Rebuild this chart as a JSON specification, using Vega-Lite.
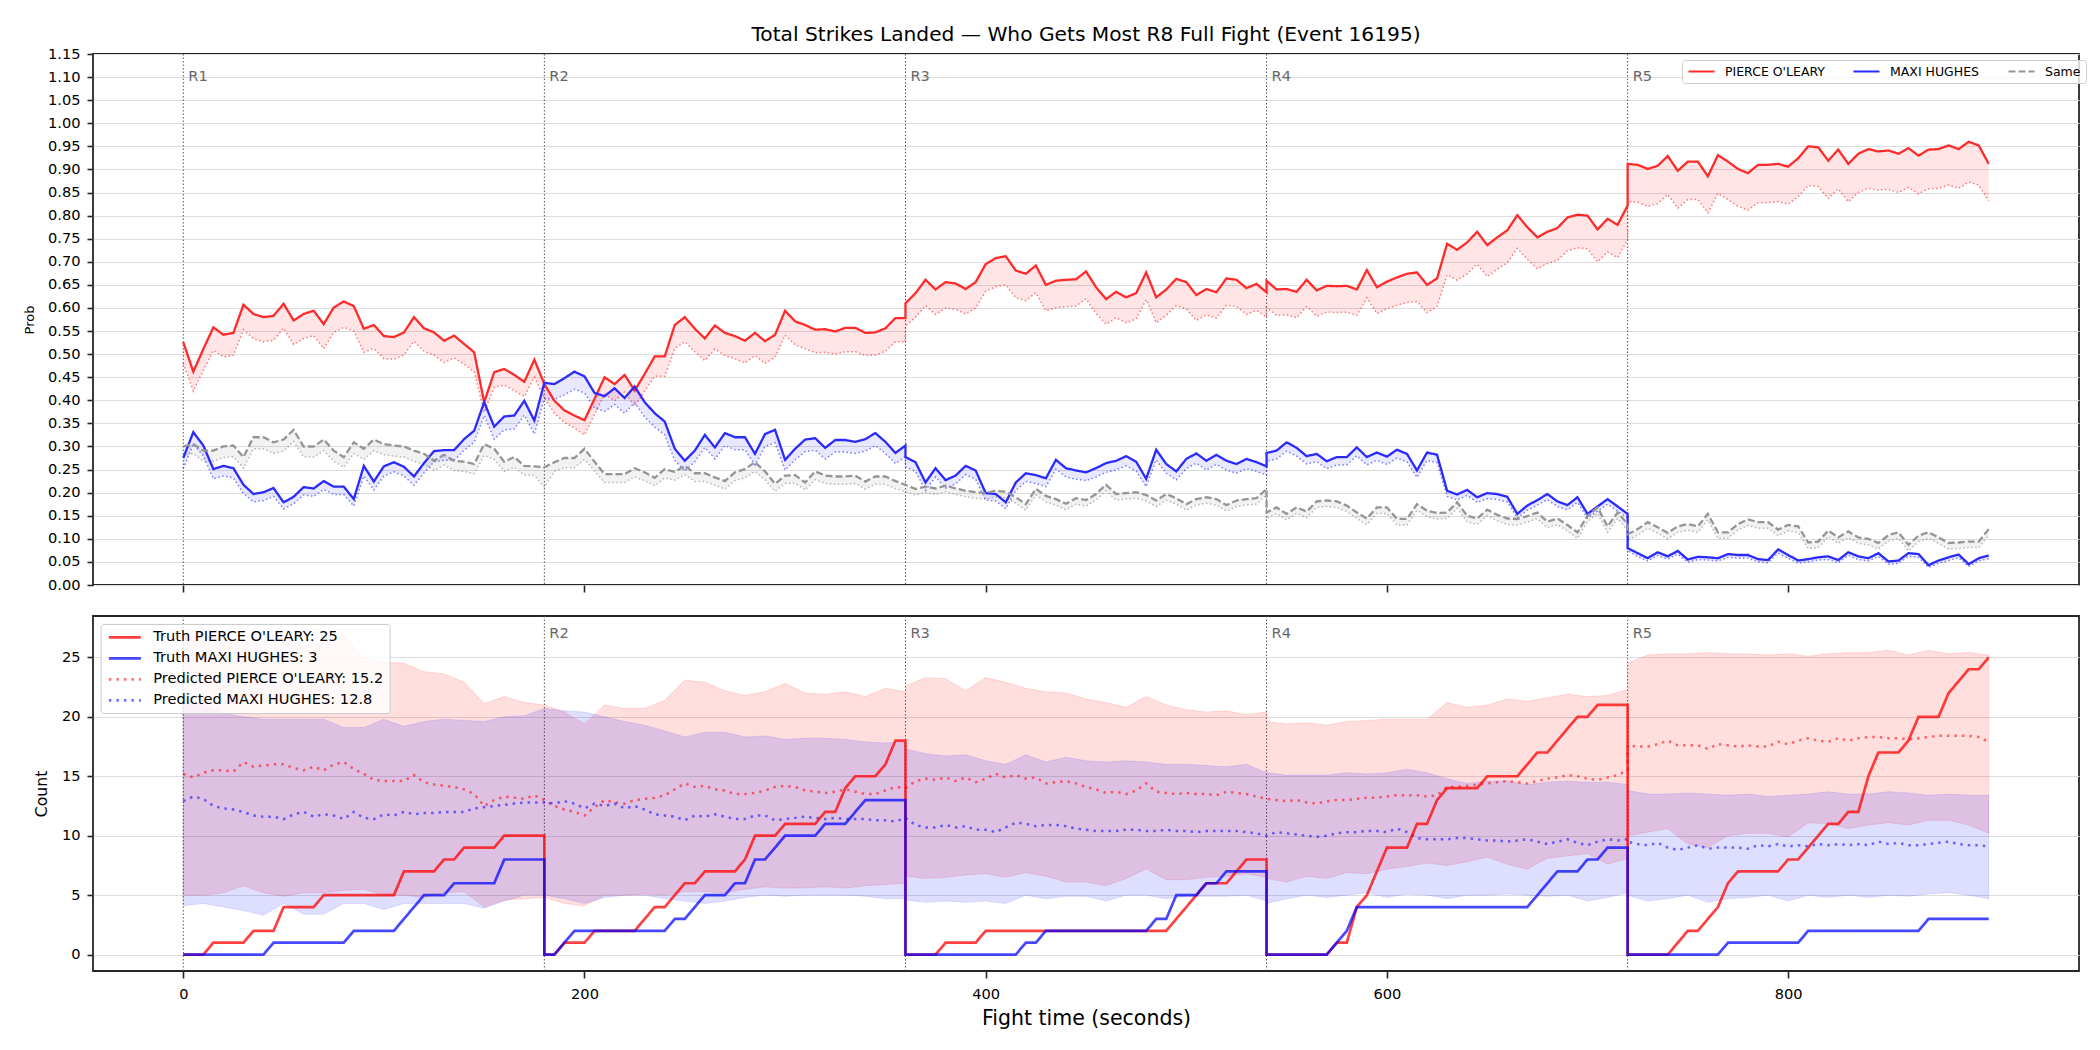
{
"$schema": "https://vega.github.io/schema/vega-lite/v6.json",
"background": "white",
"padding": {"left": 22, "top": 23, "right": 0, "bottom": 0},
"config": {
 "font": "DejaVu Sans",
 "view": {"stroke": "#262626", "strokeWidth": 1.8},
 "axis": {"domain": false, "tickColor": "#262626", "tickWidth": 1.6, "tickSize": 7, "labelColor": "#000000", "labelFont": "DejaVu Sans", "labelFontSize": 14.6, "titleFont": "DejaVu Sans", "titleFontWeight": "normal", "titleColor": "#000000", "gridColor": "#dddddd", "gridWidth": 1, "labelFlush": false, "labelOverlap": false},
 "legend": {"labelFont": "DejaVu Sans", "labelColor": "#000000", "fillColor": "rgba(255,255,255,0.8)", "strokeColor": "#cccccc", "cornerRadius": 3},
 "title": {"font": "DejaVu Sans", "fontWeight": "normal", "color": "#000000"}
},
"datasets": {
"rounds": [{"t":0,"r":"R1"},{"t":180,"r":"R2"},{"t":360,"r":"R3"},{"t":540,"r":"R4"},{"t":720,"r":"R5"}],
"prob": [
{"t":0,"r":0.526,"rl":0.480,"b":0.275,"bl":0.252,"s":0.300,"sl":0.280},
{"t":5,"r":0.462,"rl":0.420,"b":0.331,"bl":0.305,"s":0.305,"sl":0.285},
{"t":10,"r":0.511,"rl":0.465,"b":0.302,"bl":0.280,"s":0.291,"sl":0.268},
{"t":15,"r":0.558,"rl":0.508,"b":0.251,"bl":0.230,"s":0.291,"sl":0.268},
{"t":20,"r":0.542,"rl":0.494,"b":0.258,"bl":0.236,"s":0.300,"sl":0.276},
{"t":25,"r":0.546,"rl":0.497,"b":0.253,"bl":0.232,"s":0.302,"sl":0.278},
{"t":30,"r":0.607,"rl":0.553,"b":0.217,"bl":0.198,"s":0.277,"sl":0.253},
{"t":35,"r":0.587,"rl":0.533,"b":0.197,"bl":0.180,"s":0.320,"sl":0.295},
{"t":40,"r":0.580,"rl":0.527,"b":0.201,"bl":0.183,"s":0.320,"sl":0.295},
{"t":45,"r":0.583,"rl":0.530,"b":0.210,"bl":0.192,"s":0.309,"sl":0.285},
{"t":50,"r":0.609,"rl":0.556,"b":0.179,"bl":0.165,"s":0.315,"sl":0.290},
{"t":55,"r":0.573,"rl":0.521,"b":0.191,"bl":0.176,"s":0.336,"sl":0.311},
{"t":60,"r":0.587,"rl":0.534,"b":0.212,"bl":0.195,"s":0.300,"sl":0.277},
{"t":65,"r":0.594,"rl":0.540,"b":0.209,"bl":0.192,"s":0.300,"sl":0.277},
{"t":70,"r":0.565,"rl":0.512,"b":0.225,"bl":0.207,"s":0.315,"sl":0.291},
{"t":75,"r":0.601,"rl":0.547,"b":0.213,"bl":0.196,"s":0.291,"sl":0.268},
{"t":80,"r":0.614,"rl":0.558,"b":0.213,"bl":0.196,"s":0.277,"sl":0.255},
{"t":85,"r":0.604,"rl":0.550,"b":0.186,"bl":0.171,"s":0.309,"sl":0.285},
{"t":90,"r":0.555,"rl":0.504,"b":0.258,"bl":0.236,"s":0.295,"sl":0.272},
{"t":95,"r":0.563,"rl":0.512,"b":0.224,"bl":0.206,"s":0.315,"sl":0.291},
{"t":100,"r":0.539,"rl":0.490,"b":0.257,"bl":0.236,"s":0.305,"sl":0.282},
{"t":105,"r":0.537,"rl":0.489,"b":0.266,"bl":0.245,"s":0.302,"sl":0.279},
{"t":110,"r":0.547,"rl":0.498,"b":0.256,"bl":0.236,"s":0.300,"sl":0.277},
{"t":115,"r":0.580,"rl":0.528,"b":0.235,"bl":0.216,"s":0.291,"sl":0.268},
{"t":120,"r":0.556,"rl":0.506,"b":0.264,"bl":0.243,"s":0.284,"sl":0.262},
{"t":125,"r":0.547,"rl":0.498,"b":0.290,"bl":0.267,"s":0.269,"sl":0.248},
{"t":130,"r":0.529,"rl":0.482,"b":0.292,"bl":0.270,"s":0.282,"sl":0.260},
{"t":135,"r":0.540,"rl":0.492,"b":0.292,"bl":0.270,"s":0.269,"sl":0.248},
{"t":140,"r":0.522,"rl":0.478,"b":0.316,"bl":0.292,"s":0.267,"sl":0.246},
{"t":145,"r":0.504,"rl":0.462,"b":0.334,"bl":0.309,"s":0.262,"sl":0.241},
{"t":150,"r":0.396,"rl":0.374,"b":0.396,"bl":0.367,"s":0.305,"sl":0.281},
{"t":155,"r":0.461,"rl":0.428,"b":0.343,"bl":0.316,"s":0.295,"sl":0.272},
{"t":160,"r":0.468,"rl":0.433,"b":0.365,"bl":0.336,"s":0.267,"sl":0.246},
{"t":165,"r":0.455,"rl":0.421,"b":0.367,"bl":0.338,"s":0.277,"sl":0.255},
{"t":170,"r":0.440,"rl":0.408,"b":0.399,"bl":0.368,"s":0.258,"sl":0.238},
{"t":175,"r":0.488,"rl":0.450,"b":0.356,"bl":0.327,"s":0.257,"sl":0.237},
{"t":180,"r":0.435,"rl":0.405,"b":0.438,"bl":0.404,"s":0.255,"sl":0.212},
{"t":185,"r":0.399,"rl":0.372,"b":0.435,"bl":0.402,"s":0.266,"sl":0.246},
{"t":190,"r":0.378,"rl":0.352,"b":0.448,"bl":0.412,"s":0.275,"sl":0.254},
{"t":195,"r":0.367,"rl":0.340,"b":0.462,"bl":0.424,"s":0.275,"sl":0.254},
{"t":200,"r":0.357,"rl":0.325,"b":0.452,"bl":0.416,"s":0.295,"sl":0.272},
{"t":205,"r":0.403,"rl":0.370,"b":0.416,"bl":0.383,"s":0.267,"sl":0.247},
{"t":210,"r":0.450,"rl":0.413,"b":0.409,"bl":0.376,"s":0.240,"sl":0.222},
{"t":215,"r":0.435,"rl":0.399,"b":0.426,"bl":0.391,"s":0.240,"sl":0.222},
{"t":220,"r":0.455,"rl":0.418,"b":0.405,"bl":0.372,"s":0.240,"sl":0.222},
{"t":225,"r":0.421,"rl":0.387,"b":0.430,"bl":0.395,"s":0.253,"sl":0.234},
{"t":230,"r":0.457,"rl":0.420,"b":0.396,"bl":0.364,"s":0.244,"sl":0.226},
{"t":235,"r":0.495,"rl":0.452,"b":0.372,"bl":0.342,"s":0.232,"sl":0.215},
{"t":240,"r":0.495,"rl":0.452,"b":0.354,"bl":0.325,"s":0.251,"sl":0.232},
{"t":245,"r":0.563,"rl":0.512,"b":0.295,"bl":0.270,"s":0.245,"sl":0.227},
{"t":250,"r":0.580,"rl":0.527,"b":0.269,"bl":0.247,"s":0.258,"sl":0.239},
{"t":255,"r":0.555,"rl":0.505,"b":0.291,"bl":0.267,"s":0.242,"sl":0.224},
{"t":260,"r":0.534,"rl":0.486,"b":0.325,"bl":0.298,"s":0.242,"sl":0.224},
{"t":265,"r":0.562,"rl":0.511,"b":0.298,"bl":0.273,"s":0.233,"sl":0.216},
{"t":270,"r":0.546,"rl":0.497,"b":0.329,"bl":0.302,"s":0.225,"sl":0.208},
{"t":275,"r":0.539,"rl":0.490,"b":0.320,"bl":0.293,"s":0.244,"sl":0.226},
{"t":280,"r":0.529,"rl":0.481,"b":0.320,"bl":0.293,"s":0.251,"sl":0.232},
{"t":285,"r":0.546,"rl":0.497,"b":0.284,"bl":0.260,"s":0.266,"sl":0.246},
{"t":290,"r":0.528,"rl":0.480,"b":0.327,"bl":0.300,"s":0.246,"sl":0.228},
{"t":295,"r":0.542,"rl":0.493,"b":0.336,"bl":0.308,"s":0.219,"sl":0.203},
{"t":300,"r":0.594,"rl":0.541,"b":0.271,"bl":0.249,"s":0.237,"sl":0.220},
{"t":305,"r":0.571,"rl":0.520,"b":0.295,"bl":0.271,"s":0.238,"sl":0.221},
{"t":310,"r":0.563,"rl":0.512,"b":0.315,"bl":0.289,"s":0.222,"sl":0.206},
{"t":315,"r":0.553,"rl":0.503,"b":0.318,"bl":0.292,"s":0.246,"sl":0.228},
{"t":320,"r":0.554,"rl":0.504,"b":0.297,"bl":0.273,"s":0.237,"sl":0.220},
{"t":325,"r":0.549,"rl":0.500,"b":0.314,"bl":0.288,"s":0.235,"sl":0.218},
{"t":330,"r":0.557,"rl":0.505,"b":0.314,"bl":0.288,"s":0.235,"sl":0.218},
{"t":335,"r":0.557,"rl":0.505,"b":0.310,"bl":0.285,"s":0.237,"sl":0.220},
{"t":340,"r":0.546,"rl":0.497,"b":0.316,"bl":0.290,"s":0.224,"sl":0.208},
{"t":345,"r":0.547,"rl":0.498,"b":0.329,"bl":0.302,"s":0.235,"sl":0.218},
{"t":350,"r":0.556,"rl":0.506,"b":0.310,"bl":0.285,"s":0.235,"sl":0.218},
{"t":355,"r":0.578,"rl":0.527,"b":0.286,"bl":0.263,"s":0.225,"sl":0.209},
{"t":360,"r":0.578,"rl":0.527,"b":0.302,"bl":0.278,"s":0.217,"sl":0.202},
{"t":360,"r":0.610,"rl":0.560,"b":0.277,"bl":0.256,"s":0.217,"sl":0.202},
{"t":365,"r":0.632,"rl":0.580,"b":0.266,"bl":0.246,"s":0.208,"sl":0.195},
{"t":370,"r":0.661,"rl":0.605,"b":0.222,"bl":0.205,"s":0.213,"sl":0.200},
{"t":375,"r":0.640,"rl":0.586,"b":0.253,"bl":0.234,"s":0.209,"sl":0.196},
{"t":380,"r":0.656,"rl":0.600,"b":0.227,"bl":0.210,"s":0.215,"sl":0.202},
{"t":385,"r":0.653,"rl":0.597,"b":0.237,"bl":0.219,"s":0.209,"sl":0.196},
{"t":390,"r":0.641,"rl":0.587,"b":0.258,"bl":0.239,"s":0.204,"sl":0.191},
{"t":395,"r":0.656,"rl":0.600,"b":0.248,"bl":0.229,"s":0.201,"sl":0.188},
{"t":400,"r":0.695,"rl":0.636,"b":0.199,"bl":0.184,"s":0.199,"sl":0.186},
{"t":405,"r":0.708,"rl":0.646,"b":0.197,"bl":0.182,"s":0.204,"sl":0.191},
{"t":410,"r":0.712,"rl":0.650,"b":0.179,"bl":0.165,"s":0.202,"sl":0.189},
{"t":415,"r":0.681,"rl":0.622,"b":0.222,"bl":0.205,"s":0.190,"sl":0.177},
{"t":420,"r":0.674,"rl":0.616,"b":0.242,"bl":0.224,"s":0.175,"sl":0.162},
{"t":425,"r":0.692,"rl":0.633,"b":0.238,"bl":0.220,"s":0.208,"sl":0.195},
{"t":430,"r":0.650,"rl":0.594,"b":0.231,"bl":0.213,"s":0.193,"sl":0.180},
{"t":435,"r":0.659,"rl":0.600,"b":0.271,"bl":0.251,"s":0.186,"sl":0.173},
{"t":440,"r":0.661,"rl":0.603,"b":0.253,"bl":0.234,"s":0.176,"sl":0.163},
{"t":445,"r":0.662,"rl":0.604,"b":0.248,"bl":0.229,"s":0.188,"sl":0.175},
{"t":450,"r":0.679,"rl":0.620,"b":0.244,"bl":0.226,"s":0.184,"sl":0.171},
{"t":455,"r":0.645,"rl":0.588,"b":0.253,"bl":0.234,"s":0.197,"sl":0.184},
{"t":460,"r":0.619,"rl":0.565,"b":0.264,"bl":0.244,"s":0.217,"sl":0.204},
{"t":465,"r":0.635,"rl":0.579,"b":0.269,"bl":0.249,"s":0.197,"sl":0.184},
{"t":470,"r":0.623,"rl":0.568,"b":0.279,"bl":0.258,"s":0.199,"sl":0.186},
{"t":475,"r":0.632,"rl":0.576,"b":0.267,"bl":0.247,"s":0.201,"sl":0.188},
{"t":480,"r":0.677,"rl":0.618,"b":0.230,"bl":0.213,"s":0.195,"sl":0.182},
{"t":485,"r":0.623,"rl":0.568,"b":0.293,"bl":0.271,"s":0.183,"sl":0.170},
{"t":490,"r":0.640,"rl":0.584,"b":0.262,"bl":0.242,"s":0.197,"sl":0.184},
{"t":495,"r":0.663,"rl":0.605,"b":0.246,"bl":0.228,"s":0.188,"sl":0.175},
{"t":500,"r":0.656,"rl":0.598,"b":0.273,"bl":0.252,"s":0.175,"sl":0.162},
{"t":505,"r":0.628,"rl":0.573,"b":0.285,"bl":0.264,"s":0.186,"sl":0.173},
{"t":510,"r":0.641,"rl":0.585,"b":0.269,"bl":0.249,"s":0.190,"sl":0.177},
{"t":515,"r":0.634,"rl":0.578,"b":0.282,"bl":0.261,"s":0.186,"sl":0.173},
{"t":520,"r":0.664,"rl":0.606,"b":0.269,"bl":0.249,"s":0.173,"sl":0.160},
{"t":525,"r":0.661,"rl":0.603,"b":0.262,"bl":0.242,"s":0.183,"sl":0.170},
{"t":530,"r":0.643,"rl":0.586,"b":0.273,"bl":0.252,"s":0.186,"sl":0.173},
{"t":535,"r":0.652,"rl":0.595,"b":0.266,"bl":0.246,"s":0.188,"sl":0.175},
{"t":540,"r":0.634,"rl":0.580,"b":0.257,"bl":0.238,"s":0.208,"sl":0.195},
{"t":540,"r":0.659,"rl":0.601,"b":0.286,"bl":0.268,"s":0.157,"sl":0.144},
{"t":545,"r":0.640,"rl":0.584,"b":0.291,"bl":0.273,"s":0.168,"sl":0.155},
{"t":550,"r":0.641,"rl":0.585,"b":0.309,"bl":0.290,"s":0.154,"sl":0.141},
{"t":555,"r":0.635,"rl":0.579,"b":0.297,"bl":0.279,"s":0.168,"sl":0.155},
{"t":560,"r":0.661,"rl":0.603,"b":0.279,"bl":0.262,"s":0.159,"sl":0.146},
{"t":565,"r":0.638,"rl":0.582,"b":0.284,"bl":0.267,"s":0.181,"sl":0.168},
{"t":570,"r":0.648,"rl":0.591,"b":0.268,"bl":0.252,"s":0.183,"sl":0.170},
{"t":575,"r":0.647,"rl":0.590,"b":0.277,"bl":0.260,"s":0.181,"sl":0.168},
{"t":580,"r":0.648,"rl":0.591,"b":0.277,"bl":0.260,"s":0.172,"sl":0.159},
{"t":585,"r":0.640,"rl":0.584,"b":0.298,"bl":0.280,"s":0.157,"sl":0.144},
{"t":590,"r":0.682,"rl":0.622,"b":0.277,"bl":0.260,"s":0.144,"sl":0.131},
{"t":595,"r":0.645,"rl":0.588,"b":0.287,"bl":0.270,"s":0.168,"sl":0.155},
{"t":600,"r":0.657,"rl":0.598,"b":0.278,"bl":0.261,"s":0.168,"sl":0.155},
{"t":605,"r":0.666,"rl":0.606,"b":0.293,"bl":0.275,"s":0.143,"sl":0.130},
{"t":610,"r":0.674,"rl":0.612,"b":0.284,"bl":0.267,"s":0.143,"sl":0.130},
{"t":615,"r":0.677,"rl":0.614,"b":0.248,"bl":0.233,"s":0.175,"sl":0.162},
{"t":620,"r":0.650,"rl":0.590,"b":0.287,"bl":0.270,"s":0.161,"sl":0.148},
{"t":625,"r":0.664,"rl":0.603,"b":0.282,"bl":0.265,"s":0.156,"sl":0.143},
{"t":630,"r":0.739,"rl":0.672,"b":0.204,"bl":0.192,"s":0.157,"sl":0.144},
{"t":635,"r":0.726,"rl":0.660,"b":0.196,"bl":0.184,"s":0.179,"sl":0.166},
{"t":640,"r":0.742,"rl":0.674,"b":0.206,"bl":0.194,"s":0.150,"sl":0.137},
{"t":645,"r":0.765,"rl":0.695,"b":0.190,"bl":0.179,"s":0.144,"sl":0.131},
{"t":650,"r":0.736,"rl":0.668,"b":0.199,"bl":0.187,"s":0.163,"sl":0.150},
{"t":655,"r":0.753,"rl":0.684,"b":0.197,"bl":0.185,"s":0.152,"sl":0.139},
{"t":660,"r":0.768,"rl":0.698,"b":0.191,"bl":0.180,"s":0.144,"sl":0.131},
{"t":665,"r":0.801,"rl":0.729,"b":0.154,"bl":0.145,"s":0.143,"sl":0.130},
{"t":670,"r":0.775,"rl":0.705,"b":0.172,"bl":0.162,"s":0.149,"sl":0.136},
{"t":675,"r":0.753,"rl":0.685,"b":0.184,"bl":0.173,"s":0.157,"sl":0.144},
{"t":680,"r":0.765,"rl":0.696,"b":0.197,"bl":0.185,"s":0.137,"sl":0.124},
{"t":685,"r":0.773,"rl":0.703,"b":0.181,"bl":0.170,"s":0.144,"sl":0.131},
{"t":690,"r":0.796,"rl":0.724,"b":0.173,"bl":0.163,"s":0.130,"sl":0.117},
{"t":695,"r":0.802,"rl":0.730,"b":0.190,"bl":0.179,"s":0.114,"sl":0.101},
{"t":700,"r":0.800,"rl":0.728,"b":0.154,"bl":0.145,"s":0.150,"sl":0.137},
{"t":705,"r":0.770,"rl":0.700,"b":0.170,"bl":0.160,"s":0.168,"sl":0.155},
{"t":710,"r":0.793,"rl":0.721,"b":0.186,"bl":0.175,"s":0.127,"sl":0.114},
{"t":715,"r":0.780,"rl":0.709,"b":0.170,"bl":0.160,"s":0.157,"sl":0.144},
{"t":720,"r":0.822,"rl":0.748,"b":0.154,"bl":0.145,"s":0.132,"sl":0.119},
{"t":720,"r":0.912,"rl":0.830,"b":0.080,"bl":0.074,"s":0.110,"sl":0.097},
{"t":725,"r":0.910,"rl":0.829,"b":0.069,"bl":0.062,"s":0.121,"sl":0.108},
{"t":730,"r":0.901,"rl":0.820,"b":0.058,"bl":0.052,"s":0.136,"sl":0.123},
{"t":735,"r":0.908,"rl":0.826,"b":0.071,"bl":0.064,"s":0.125,"sl":0.112},
{"t":740,"r":0.929,"rl":0.846,"b":0.062,"bl":0.056,"s":0.113,"sl":0.100},
{"t":745,"r":0.897,"rl":0.816,"b":0.074,"bl":0.067,"s":0.127,"sl":0.114},
{"t":750,"r":0.917,"rl":0.835,"b":0.055,"bl":0.049,"s":0.132,"sl":0.119},
{"t":755,"r":0.917,"rl":0.835,"b":0.061,"bl":0.055,"s":0.127,"sl":0.114},
{"t":760,"r":0.885,"rl":0.806,"b":0.060,"bl":0.054,"s":0.154,"sl":0.141},
{"t":765,"r":0.931,"rl":0.848,"b":0.058,"bl":0.052,"s":0.114,"sl":0.101},
{"t":770,"r":0.917,"rl":0.835,"b":0.067,"bl":0.060,"s":0.114,"sl":0.101},
{"t":775,"r":0.901,"rl":0.820,"b":0.065,"bl":0.058,"s":0.132,"sl":0.119},
{"t":780,"r":0.892,"rl":0.812,"b":0.065,"bl":0.058,"s":0.142,"sl":0.129},
{"t":785,"r":0.910,"rl":0.828,"b":0.056,"bl":0.050,"s":0.136,"sl":0.123},
{"t":790,"r":0.910,"rl":0.828,"b":0.054,"bl":0.048,"s":0.136,"sl":0.123},
{"t":795,"r":0.912,"rl":0.830,"b":0.077,"bl":0.069,"s":0.120,"sl":0.107},
{"t":800,"r":0.906,"rl":0.825,"b":0.065,"bl":0.058,"s":0.130,"sl":0.117},
{"t":805,"r":0.924,"rl":0.841,"b":0.053,"bl":0.047,"s":0.127,"sl":0.114},
{"t":810,"r":0.950,"rl":0.865,"b":0.056,"bl":0.050,"s":0.092,"sl":0.079},
{"t":815,"r":0.948,"rl":0.863,"b":0.060,"bl":0.054,"s":0.094,"sl":0.081},
{"t":820,"r":0.919,"rl":0.837,"b":0.062,"bl":0.055,"s":0.118,"sl":0.105},
{"t":825,"r":0.943,"rl":0.858,"b":0.054,"bl":0.048,"s":0.103,"sl":0.090},
{"t":830,"r":0.912,"rl":0.830,"b":0.071,"bl":0.064,"s":0.116,"sl":0.103},
{"t":835,"r":0.934,"rl":0.850,"b":0.062,"bl":0.055,"s":0.103,"sl":0.090},
{"t":840,"r":0.944,"rl":0.859,"b":0.058,"bl":0.052,"s":0.100,"sl":0.087},
{"t":845,"r":0.939,"rl":0.855,"b":0.069,"bl":0.062,"s":0.091,"sl":0.078},
{"t":850,"r":0.941,"rl":0.857,"b":0.051,"bl":0.045,"s":0.108,"sl":0.095},
{"t":855,"r":0.934,"rl":0.850,"b":0.053,"bl":0.047,"s":0.114,"sl":0.101},
{"t":860,"r":0.946,"rl":0.861,"b":0.069,"bl":0.062,"s":0.087,"sl":0.074},
{"t":865,"r":0.930,"rl":0.847,"b":0.067,"bl":0.060,"s":0.107,"sl":0.094},
{"t":870,"r":0.943,"rl":0.858,"b":0.043,"bl":0.038,"s":0.114,"sl":0.101},
{"t":875,"r":0.944,"rl":0.859,"b":0.053,"bl":0.047,"s":0.103,"sl":0.090},
{"t":880,"r":0.952,"rl":0.866,"b":0.060,"bl":0.053,"s":0.091,"sl":0.078},
{"t":885,"r":0.944,"rl":0.859,"b":0.066,"bl":0.059,"s":0.092,"sl":0.079},
{"t":890,"r":0.960,"rl":0.873,"b":0.045,"bl":0.040,"s":0.094,"sl":0.081},
{"t":895,"r":0.952,"rl":0.866,"b":0.058,"bl":0.052,"s":0.094,"sl":0.081},
{"t":900,"r":0.912,"rl":0.832,"b":0.064,"bl":0.057,"s":0.121,"sl":0.108}
],
"count": [
{"t":0,"tr":0,"tb":0,"pr":15.2,"pb":12.9},{"t":5,"tr":0,"tb":0,"pr":14.9,"pb":13.3},{"t":10,"tr":0,"tb":0,"pr":15.3,"pb":13.1},{"t":15,"tr":1,"tb":0,"pr":15.5,"pb":12.5},{"t":20,"tr":1,"tb":0,"pr":15.5,"pb":12.3},{"t":25,"tr":1,"tb":0,"pr":15.4,"pb":12.2},{"t":30,"tr":1,"tb":0,"pr":16.2,"pb":12.0},{"t":35,"tr":2,"tb":0,"pr":15.8,"pb":11.7},{"t":40,"tr":2,"tb":0,"pr":15.9,"pb":11.6},{"t":45,"tr":2,"tb":1,"pr":16.0,"pb":11.6},
{"t":50,"tr":4,"tb":1,"pr":16.0,"pb":11.4},{"t":55,"tr":4,"tb":1,"pr":15.7,"pb":11.8},{"t":60,"tr":4,"tb":1,"pr":15.5,"pb":12.0},{"t":65,"tr":4,"tb":1,"pr":15.8,"pb":11.6},{"t":70,"tr":5,"tb":1,"pr":15.5,"pb":11.8},{"t":75,"tr":5,"tb":1,"pr":16.0,"pb":11.7},{"t":80,"tr":5,"tb":1,"pr":16.2,"pb":11.4},{"t":85,"tr":5,"tb":2,"pr":15.6,"pb":12.0},{"t":90,"tr":5,"tb":2,"pr":15.2,"pb":11.5},{"t":95,"tr":5,"tb":2,"pr":14.7,"pb":11.4},
{"t":100,"tr":5,"tb":2,"pr":14.6,"pb":11.8},{"t":105,"tr":5,"tb":2,"pr":14.6,"pb":11.7},{"t":110,"tr":7,"tb":3,"pr":14.6,"pb":12.0},{"t":115,"tr":7,"tb":4,"pr":15.1,"pb":11.8},{"t":120,"tr":7,"tb":5,"pr":14.5,"pb":11.9},{"t":125,"tr":7,"tb":5,"pr":14.3,"pb":11.9},{"t":130,"tr":8,"tb":5,"pr":14.2,"pb":12.0},{"t":135,"tr":8,"tb":6,"pr":14.1,"pb":12.0},{"t":140,"tr":9,"tb":6,"pr":13.9,"pb":12.0},{"t":145,"tr":9,"tb":6,"pr":13.5,"pb":12.3},
{"t":150,"tr":9,"tb":6,"pr":12.5,"pb":12.4},{"t":155,"tr":9,"tb":6,"pr":13.0,"pb":12.5},{"t":160,"tr":10,"tb":8,"pr":13.3,"pb":12.6},{"t":165,"tr":10,"tb":8,"pr":13.2,"pb":12.7},{"t":170,"tr":10,"tb":8,"pr":13.1,"pb":12.8},{"t":175,"tr":10,"tb":8,"pr":13.4,"pb":12.8},{"t":180,"tr":10,"tb":8,"pr":13.0,"pb":12.8},{"t":180,"tr":0,"tb":0,"pr":13.0,"pb":12.8},{"t":185,"tr":0,"tb":0,"pr":12.5,"pb":12.7},{"t":190,"tr":1,"tb":1,"pr":12.2,"pb":12.9},{"t":195,"tr":1,"tb":2,"pr":12.0,"pb":12.7},
{"t":200,"tr":1,"tb":2,"pr":11.7,"pb":12.3},{"t":205,"tr":2,"tb":2,"pr":12.4,"pb":12.7},{"t":210,"tr":2,"tb":2,"pr":13.0,"pb":12.5},{"t":215,"tr":2,"tb":2,"pr":12.8,"pb":12.7},{"t":220,"tr":2,"tb":2,"pr":12.7,"pb":12.3},{"t":225,"tr":2,"tb":2,"pr":13.0,"pb":12.5},{"t":230,"tr":3,"tb":2,"pr":13.1,"pb":12.2},{"t":235,"tr":4,"tb":2,"pr":13.2,"pb":11.8},{"t":240,"tr":4,"tb":2,"pr":13.4,"pb":11.7},{"t":245,"tr":5,"tb":3,"pr":13.9,"pb":11.6},
{"t":250,"tr":6,"tb":3,"pr":14.4,"pb":11.3},{"t":255,"tr":6,"tb":4,"pr":14.1,"pb":11.7},{"t":260,"tr":7,"tb":5,"pr":14.2,"pb":11.6},{"t":265,"tr":7,"tb":5,"pr":13.9,"pb":11.8},{"t":270,"tr":7,"tb":5,"pr":13.8,"pb":11.6},{"t":275,"tr":7,"tb":6,"pr":13.5,"pb":11.4},{"t":280,"tr":8,"tb":6,"pr":13.5,"pb":11.4},{"t":285,"tr":10,"tb":8,"pr":13.6,"pb":11.7},{"t":290,"tr":10,"tb":8,"pr":13.8,"pb":11.7},{"t":295,"tr":10,"tb":9,"pr":14.1,"pb":11.3},
{"t":300,"tr":11,"tb":10,"pr":14.2,"pb":11.4},{"t":305,"tr":11,"tb":10,"pr":14.1,"pb":11.5},{"t":310,"tr":11,"tb":10,"pr":13.8,"pb":11.6},{"t":315,"tr":11,"tb":10,"pr":13.7,"pb":11.5},{"t":320,"tr":12,"tb":11,"pr":13.6,"pb":11.4},{"t":325,"tr":12,"tb":11,"pr":13.7,"pb":11.5},{"t":330,"tr":14,"tb":11,"pr":13.9,"pb":11.4},{"t":335,"tr":15,"tb":12,"pr":13.7,"pb":11.4},{"t":340,"tr":15,"tb":13,"pr":13.5,"pb":11.4},{"t":345,"tr":15,"tb":13,"pr":13.5,"pb":11.3},
{"t":350,"tr":16,"tb":13,"pr":13.8,"pb":11.3},{"t":355,"tr":18,"tb":13,"pr":14.1,"pb":11.2},{"t":360,"tr":18,"tb":13,"pr":14.0,"pb":11.5},{"t":360,"tr":0,"tb":0,"pr":14.0,"pb":11.5},{"t":365,"tr":0,"tb":0,"pr":14.6,"pb":10.9},{"t":370,"tr":0,"tb":0,"pr":14.8,"pb":10.7},{"t":375,"tr":0,"tb":0,"pr":14.7,"pb":10.7},{"t":380,"tr":1,"tb":0,"pr":14.9,"pb":10.9},{"t":385,"tr":1,"tb":0,"pr":14.6,"pb":10.7},{"t":390,"tr":1,"tb":0,"pr":14.9,"pb":10.8},{"t":395,"tr":1,"tb":0,"pr":14.5,"pb":10.5},
{"t":400,"tr":2,"tb":0,"pr":14.8,"pb":10.5},{"t":405,"tr":2,"tb":0,"pr":15.2,"pb":10.3},{"t":410,"tr":2,"tb":0,"pr":14.9,"pb":10.7},{"t":415,"tr":2,"tb":0,"pr":15.1,"pb":11.1},{"t":420,"tr":2,"tb":1,"pr":14.8,"pb":11.0},{"t":425,"tr":2,"tb":1,"pr":14.9,"pb":10.8},{"t":430,"tr":2,"tb":2,"pr":14.4,"pb":10.9},{"t":435,"tr":2,"tb":2,"pr":14.5,"pb":10.9},{"t":440,"tr":2,"tb":2,"pr":14.6,"pb":10.8},{"t":445,"tr":2,"tb":2,"pr":14.4,"pb":10.6},
{"t":450,"tr":2,"tb":2,"pr":14.1,"pb":10.5},{"t":455,"tr":2,"tb":2,"pr":13.9,"pb":10.4},{"t":460,"tr":2,"tb":2,"pr":13.6,"pb":10.4},{"t":465,"tr":2,"tb":2,"pr":13.7,"pb":10.4},{"t":470,"tr":2,"tb":2,"pr":13.5,"pb":10.5},{"t":475,"tr":2,"tb":2,"pr":13.8,"pb":10.5},{"t":480,"tr":2,"tb":2,"pr":14.4,"pb":10.4},{"t":485,"tr":2,"tb":3,"pr":13.7,"pb":10.4},{"t":490,"tr":2,"tb":3,"pr":13.6,"pb":10.5},{"t":495,"tr":3,"tb":5,"pr":13.5,"pb":10.4},
{"t":500,"tr":4,"tb":5,"pr":13.6,"pb":10.4},{"t":505,"tr":5,"tb":5,"pr":13.5,"pb":10.3},{"t":510,"tr":6,"tb":6,"pr":13.5,"pb":10.4},{"t":515,"tr":6,"tb":6,"pr":13.4,"pb":10.4},{"t":520,"tr":6,"tb":7,"pr":13.7,"pb":10.4},{"t":525,"tr":7,"tb":7,"pr":13.6,"pb":10.4},{"t":530,"tr":8,"tb":7,"pr":13.5,"pb":10.3},{"t":535,"tr":8,"tb":7,"pr":13.3,"pb":10.2},{"t":540,"tr":8,"tb":7,"pr":13.1,"pb":10.0},{"t":540,"tr":0,"tb":0,"pr":13.1,"pb":10.0},{"t":545,"tr":0,"tb":0,"pr":13.0,"pb":10.3},
{"t":550,"tr":0,"tb":0,"pr":12.9,"pb":10.2},{"t":555,"tr":0,"tb":0,"pr":13.0,"pb":10.1},{"t":560,"tr":0,"tb":0,"pr":12.8,"pb":10.0},{"t":565,"tr":0,"tb":0,"pr":12.7,"pb":9.9},{"t":570,"tr":0,"tb":0,"pr":12.9,"pb":10.0},{"t":575,"tr":1,"tb":1,"pr":13.0,"pb":10.2},{"t":580,"tr":1,"tb":2,"pr":13.0,"pb":10.3},{"t":585,"tr":4,"tb":4,"pr":13.1,"pb":10.3},{"t":590,"tr":5,"tb":4,"pr":13.2,"pb":10.4},{"t":595,"tr":7,"tb":4,"pr":13.2,"pb":10.4},
{"t":600,"tr":9,"tb":4,"pr":13.3,"pb":10.3},{"t":605,"tr":9,"tb":4,"pr":13.4,"pb":10.6},{"t":610,"tr":9,"tb":4,"pr":13.4,"pb":10.3},{"t":615,"tr":11,"tb":4,"pr":13.4,"pb":9.8},{"t":620,"tr":11,"tb":4,"pr":13.3,"pb":9.7},{"t":625,"tr":13,"tb":4,"pr":13.4,"pb":9.7},{"t":630,"tr":14,"tb":4,"pr":14.1,"pb":9.7},{"t":635,"tr":14,"tb":4,"pr":14.1,"pb":9.8},{"t":640,"tr":14,"tb":4,"pr":14.2,"pb":9.8},{"t":645,"tr":14,"tb":4,"pr":14.3,"pb":9.7},
{"t":650,"tr":15,"tb":4,"pr":14.4,"pb":9.6},{"t":655,"tr":15,"tb":4,"pr":14.5,"pb":9.6},{"t":660,"tr":15,"tb":4,"pr":14.6,"pb":9.5},{"t":665,"tr":15,"tb":4,"pr":14.5,"pb":9.6},{"t":670,"tr":16,"tb":4,"pr":14.4,"pb":9.7},{"t":675,"tr":17,"tb":5,"pr":14.6,"pb":9.5},{"t":680,"tr":17,"tb":6,"pr":14.8,"pb":9.3},{"t":685,"tr":18,"tb":7,"pr":14.9,"pb":9.5},{"t":690,"tr":19,"tb":7,"pr":15.1,"pb":9.7},{"t":695,"tr":20,"tb":7,"pr":15.0,"pb":9.4},
{"t":700,"tr":20,"tb":8,"pr":14.8,"pb":9.2},{"t":705,"tr":21,"tb":8,"pr":14.7,"pb":9.5},{"t":710,"tr":21,"tb":9,"pr":14.9,"pb":9.7},{"t":715,"tr":21,"tb":9,"pr":15.1,"pb":9.6},{"t":720,"tr":21,"tb":9,"pr":15.5,"pb":9.7},{"t":720,"tr":0,"tb":0,"pr":17.6,"pb":9.5},{"t":725,"tr":0,"tb":0,"pr":17.5,"pb":9.3},{"t":730,"tr":0,"tb":0,"pr":17.5,"pb":9.2},{"t":735,"tr":0,"tb":0,"pr":17.7,"pb":9.4},{"t":740,"tr":0,"tb":0,"pr":18.0,"pb":9.0},{"t":745,"tr":1,"tb":0,"pr":17.6,"pb":8.8},
{"t":750,"tr":2,"tb":0,"pr":17.6,"pb":9.0},{"t":755,"tr":2,"tb":0,"pr":17.6,"pb":9.2},{"t":760,"tr":3,"tb":0,"pr":17.3,"pb":8.9},{"t":765,"tr":4,"tb":0,"pr":17.7,"pb":9.0},{"t":770,"tr":6,"tb":1,"pr":17.6,"pb":9.0},{"t":775,"tr":7,"tb":1,"pr":17.5,"pb":9.0},{"t":780,"tr":7,"tb":1,"pr":17.6,"pb":8.9},{"t":785,"tr":7,"tb":1,"pr":17.5,"pb":9.2},{"t":790,"tr":7,"tb":1,"pr":17.5,"pb":9.1},{"t":795,"tr":7,"tb":1,"pr":17.9,"pb":9.3},
{"t":800,"tr":8,"tb":1,"pr":17.7,"pb":9.1},{"t":805,"tr":8,"tb":1,"pr":18.0,"pb":9.2},{"t":810,"tr":9,"tb":2,"pr":18.2,"pb":9.1},{"t":815,"tr":10,"tb":2,"pr":18.0,"pb":9.3},{"t":820,"tr":11,"tb":2,"pr":17.9,"pb":9.2},{"t":825,"tr":11,"tb":2,"pr":18.2,"pb":9.3},{"t":830,"tr":12,"tb":2,"pr":18.0,"pb":9.2},{"t":835,"tr":12,"tb":2,"pr":18.2,"pb":9.3},{"t":840,"tr":15,"tb":2,"pr":18.3,"pb":9.2},{"t":845,"tr":17,"tb":2,"pr":18.3,"pb":9.5},
{"t":850,"tr":17,"tb":2,"pr":18.2,"pb":9.3},{"t":855,"tr":17,"tb":2,"pr":18.2,"pb":9.4},{"t":860,"tr":18,"tb":2,"pr":18.1,"pb":9.2},{"t":865,"tr":20,"tb":2,"pr":18.2,"pb":9.2},{"t":870,"tr":20,"tb":3,"pr":18.3,"pb":9.3},{"t":875,"tr":20,"tb":3,"pr":18.4,"pb":9.4},{"t":880,"tr":22,"tb":3,"pr":18.4,"pb":9.5},{"t":885,"tr":23,"tb":3,"pr":18.4,"pb":9.3},{"t":890,"tr":24,"tb":3,"pr":18.4,"pb":9.2},{"t":895,"tr":24,"tb":3,"pr":18.3,"pb":9.2},{"t":900,"tr":25,"tb":3,"pr":17.9,"pb":9.1}
],
"band": [
{"t":0,"rhi":26.5,"rlo":5.0,"bhi":21.5,"blo":4.1},{"t":10,"rhi":27.0,"rlo":5.0,"bhi":21.0,"blo":4.3},{"t":20,"rhi":26.5,"rlo":5.2,"bhi":20.3,"blo":4.0},{"t":30,"rhi":26.3,"rlo":5.8,"bhi":20.0,"blo":3.7},{"t":40,"rhi":26.3,"rlo":5.2,"bhi":19.8,"blo":3.3},{"t":50,"rhi":26.5,"rlo":4.9,"bhi":19.8,"blo":4.3},{"t":60,"rhi":26.0,"rlo":5.2,"bhi":19.8,"blo":3.4},{"t":70,"rhi":26.2,"rlo":5.2,"bhi":19.8,"blo":3.4},{"t":80,"rhi":26.8,"rlo":5.4,"bhi":19.1,"blo":4.3},{"t":90,"rhi":25.0,"rlo":5.5,"bhi":19.1,"blo":4.3},
{"t":100,"rhi":24.6,"rlo":5.0,"bhi":19.8,"blo":3.8},{"t":110,"rhi":24.5,"rlo":5.0,"bhi":19.2,"blo":4.3},{"t":120,"rhi":23.8,"rlo":4.8,"bhi":19.6,"blo":4.3},{"t":130,"rhi":23.6,"rlo":5.2,"bhi":19.8,"blo":4.3},{"t":140,"rhi":22.9,"rlo":5.3,"bhi":19.7,"blo":4.3},{"t":150,"rhi":21.1,"rlo":4.0,"bhi":19.6,"blo":3.9},{"t":160,"rhi":21.7,"rlo":4.6,"bhi":20.0,"blo":4.5},{"t":170,"rhi":21.2,"rlo":4.7,"bhi":20.1,"blo":5.0},{"t":180,"rhi":21.0,"rlo":4.8,"bhi":20.7,"blo":5.0},{"t":190,"rhi":20.4,"rlo":4.3,"bhi":20.5,"blo":4.7},
{"t":200,"rhi":19.4,"rlo":4.1,"bhi":20.4,"blo":4.3},{"t":210,"rhi":21.0,"rlo":5.0,"bhi":20.0,"blo":4.8},{"t":220,"rhi":20.7,"rlo":5.0,"bhi":19.6,"blo":5.0},{"t":230,"rhi":20.7,"rlo":5.1,"bhi":19.3,"blo":5.0},{"t":240,"rhi":21.4,"rlo":5.0,"bhi":18.8,"blo":4.7},{"t":250,"rhi":23.1,"rlo":5.3,"bhi":18.3,"blo":4.5},{"t":260,"rhi":22.9,"rlo":5.3,"bhi":18.7,"blo":4.3},{"t":270,"rhi":22.2,"rlo":5.2,"bhi":18.7,"blo":4.5},{"t":280,"rhi":21.8,"rlo":5.5,"bhi":18.3,"blo":4.8},{"t":290,"rhi":22.1,"rlo":5.7,"bhi":18.4,"blo":5.0},
{"t":300,"rhi":22.8,"rlo":5.6,"bhi":18.1,"blo":4.9},{"t":310,"rhi":22.0,"rlo":5.6,"bhi":18.2,"blo":5.0},{"t":320,"rhi":21.9,"rlo":5.7,"bhi":18.2,"blo":5.0},{"t":330,"rhi":22.1,"rlo":5.6,"bhi":18.1,"blo":5.0},{"t":340,"rhi":21.7,"rlo":5.8,"bhi":17.9,"blo":4.9},{"t":350,"rhi":22.4,"rlo":5.9,"bhi":17.8,"blo":4.7},{"t":360,"rhi":22.1,"rlo":6.0,"bhi":17.9,"blo":4.7},{"t":360,"rhi":22.6,"rlo":6.6,"bhi":17.3,"blo":4.6},{"t":370,"rhi":23.3,"rlo":6.4,"bhi":16.9,"blo":4.4},{"t":380,"rhi":23.2,"rlo":6.5,"bhi":16.7,"blo":4.5},{"t":390,"rhi":22.2,"rlo":6.7,"bhi":16.8,"blo":4.4},
{"t":400,"rhi":23.3,"rlo":6.8,"bhi":16.3,"blo":4.5},{"t":410,"rhi":22.9,"rlo":6.5,"bhi":16.0,"blo":4.3},{"t":420,"rhi":22.4,"rlo":6.9,"bhi":16.8,"blo":5.0},{"t":430,"rhi":22.1,"rlo":6.6,"bhi":16.2,"blo":4.7},{"t":440,"rhi":22.0,"rlo":6.1,"bhi":16.6,"blo":4.9},{"t":450,"rhi":21.5,"rlo":6.1,"bhi":16.3,"blo":4.9},{"t":460,"rhi":21.2,"rlo":5.8,"bhi":16.2,"blo":4.5},{"t":470,"rhi":20.8,"rlo":6.4,"bhi":16.3,"blo":5.0},{"t":480,"rhi":21.7,"rlo":7.2,"bhi":16.2,"blo":5.0},{"t":490,"rhi":21.0,"rlo":6.3,"bhi":16.0,"blo":4.7},
{"t":500,"rhi":20.6,"rlo":6.3,"bhi":16.0,"blo":4.9},{"t":510,"rhi":20.4,"rlo":6.5,"bhi":15.9,"blo":4.9},{"t":520,"rhi":20.5,"rlo":6.6,"bhi":15.8,"blo":4.9},{"t":530,"rhi":20.2,"rlo":6.8,"bhi":16.0,"blo":5.0},{"t":540,"rhi":20.4,"rlo":6.5,"bhi":15.3,"blo":4.5},{"t":540,"rhi":19.6,"rlo":6.4,"bhi":15.3,"blo":4.3},{"t":550,"rhi":19.4,"rlo":6.1,"bhi":15.1,"blo":4.7},{"t":560,"rhi":19.5,"rlo":6.6,"bhi":15.1,"blo":5.0},{"t":570,"rhi":19.3,"rlo":6.4,"bhi":15.1,"blo":4.8},{"t":580,"rhi":19.6,"rlo":6.9,"bhi":15.3,"blo":5.0},{"t":590,"rhi":19.7,"rlo":6.8,"bhi":15.2,"blo":5.2},
{"t":600,"rhi":19.8,"rlo":7.2,"bhi":15.3,"blo":4.8},{"t":610,"rhi":19.8,"rlo":7.4,"bhi":15.6,"blo":5.1},{"t":620,"rhi":19.8,"rlo":7.7,"bhi":15.3,"blo":5.0},{"t":630,"rhi":21.2,"rlo":7.5,"bhi":14.8,"blo":4.7},{"t":640,"rhi":20.8,"rlo":7.8,"bhi":14.4,"blo":5.0},{"t":650,"rhi":21.0,"rlo":8.2,"bhi":14.6,"blo":5.0},{"t":660,"rhi":21.5,"rlo":7.6,"bhi":14.6,"blo":5.1},{"t":670,"rhi":21.3,"rlo":7.2,"bhi":14.3,"blo":5.0},{"t":680,"rhi":21.6,"rlo":8.1,"bhi":14.5,"blo":4.9},{"t":690,"rhi":21.9,"rlo":8.3,"bhi":14.6,"blo":5.0},
{"t":700,"rhi":21.7,"rlo":8.5,"bhi":14.5,"blo":4.5},{"t":710,"rhi":21.8,"rlo":7.6,"bhi":14.5,"blo":4.8},{"t":720,"rhi":22.3,"rlo":8.1,"bhi":14.3,"blo":5.2},{"t":720,"rhi":24.5,"rlo":10.0,"bhi":13.8,"blo":5.0},{"t":730,"rhi":25.2,"rlo":10.3,"bhi":13.5,"blo":4.5},{"t":740,"rhi":25.3,"rlo":10.6,"bhi":13.5,"blo":4.7},{"t":750,"rhi":25.3,"rlo":9.3,"bhi":13.6,"blo":5.0},{"t":760,"rhi":25.4,"rlo":9.0,"bhi":13.5,"blo":4.4},{"t":770,"rhi":25.3,"rlo":10.0,"bhi":13.4,"blo":4.7},{"t":780,"rhi":25.3,"rlo":10.2,"bhi":13.5,"blo":4.8},{"t":790,"rhi":25.2,"rlo":10.2,"bhi":13.3,"blo":5.0},
{"t":800,"rhi":25.3,"rlo":9.9,"bhi":13.4,"blo":4.5},{"t":810,"rhi":25.1,"rlo":11.1,"bhi":13.5,"blo":5.0},{"t":820,"rhi":25.3,"rlo":11.0,"bhi":13.7,"blo":4.8},{"t":830,"rhi":25.4,"rlo":10.6,"bhi":13.5,"blo":5.0},{"t":840,"rhi":25.4,"rlo":10.9,"bhi":13.5,"blo":4.8},{"t":850,"rhi":25.6,"rlo":11.1,"bhi":13.7,"blo":5.0},{"t":860,"rhi":25.2,"rlo":10.9,"bhi":13.6,"blo":4.9},{"t":870,"rhi":25.6,"rlo":11.3,"bhi":13.4,"blo":5.1},{"t":880,"rhi":25.3,"rlo":11.3,"bhi":13.5,"blo":5.2},{"t":890,"rhi":25.4,"rlo":10.9,"bhi":13.4,"blo":5.0},{"t":900,"rhi":25.2,"rlo":10.2,"bhi":13.4,"blo":4.7}
]
},
"spacing": 31,
"bounds": "flush",
"resolve": {"scale": {"color": "independent", "strokeDash": "independent"}},
"vconcat": [
{
 "width": 1986, "height": 531,
 "data": {"name": "prob"},
 "title": {"text": "Total Strikes Landed — Who Gets Most R8 Full Fight (Event 16195)", "fontSize": 20.2, "offset": 1, "anchor": "middle", "frame": "group"},
 "encoding": {"x": {"field": "t", "type": "quantitative", "scale": {"domain": [-45, 945], "nice": false, "zero": false}, "axis": {"values": [0, 200, 400, 600, 800], "labels": false, "title": null, "grid": false, "tickSize": 7}}},
 "layer": [
  {"data": {"name": "rounds"}, "mark": {"type": "rule", "color": "#555555", "strokeWidth": 1, "strokeDash": [1.5, 2]}, "encoding": {"x": {"field": "t", "type": "quantitative"}}},
  {"mark": {"type": "area", "color": "#808080", "opacity": 0.1}, "encoding": {"y": {"field": "sl", "type": "quantitative", "scale": {"domain": [0, 1.15], "nice": false, "zero": false}, "axis": {"values": [0, 0.05, 0.1, 0.15, 0.2, 0.25, 0.3, 0.35, 0.4, 0.45, 0.5, 0.55, 0.6, 0.65, 0.7, 0.75, 0.8, 0.85, 0.9, 0.95, 1, 1.05, 1.1, 1.15], "tickCount": 60, "format": ".2f", "title": "Prob", "titleFontSize": 13, "titleX": -64, "titleBaseline": "middle", "grid": true, "tickSize": 6, "labelPadding": 7, "labelOverlap": false, "labelBound": false}}, "y2": {"field": "s"}}},
  {"mark": {"type": "area", "color": "#0000ff", "opacity": 0.09}, "encoding": {"y": {"field": "bl", "type": "quantitative"}, "y2": {"field": "b"}}},
  {"mark": {"type": "area", "color": "#ff0000", "opacity": 0.1}, "encoding": {"y": {"field": "rl", "type": "quantitative"}, "y2": {"field": "r"}}},
  {"mark": {"type": "line", "color": "#808080", "opacity": 0.55, "strokeWidth": 1.5, "strokeDash": [1.5, 2.5], "strokeCap": "butt"}, "encoding": {"y": {"field": "sl", "type": "quantitative"}}},
  {"mark": {"type": "line", "color": "#0000ff", "opacity": 0.5, "strokeWidth": 1.5, "strokeDash": [1.5, 2.5], "strokeCap": "butt"}, "encoding": {"y": {"field": "bl", "type": "quantitative"}}},
  {"mark": {"type": "line", "color": "#ff0000", "opacity": 0.5, "strokeWidth": 1.5, "strokeDash": [1.5, 2.5], "strokeCap": "butt"}, "encoding": {"y": {"field": "rl", "type": "quantitative"}}},
  {"mark": {"type": "line", "strokeWidth": 2.3}, "encoding": {"y": {"field": "r", "type": "quantitative"},
    "color": {"datum": "PIERCE O'LEARY", "scale": {"domain": ["PIERCE O'LEARY", "MAXI HUGHES", "Same"], "range": ["#ff2a2a", "#2a2aff", "#959595"]}, "legend": {"orient": "none", "legendX": 1589, "legendY": 6, "direction": "horizontal", "title": null, "symbolType": "M-1,0H4.2", "symbolSize": 100, "symbolStrokeWidth": 2.2, "labelFontSize": 12.5, "labelOffset": 25, "columnPadding": 24, "padding": 5, "labelLimit": 300}},
    "strokeDash": {"datum": "PIERCE O'LEARY", "scale": {"domain": ["PIERCE O'LEARY", "MAXI HUGHES", "Same"], "range": [[1, 0], [1, 0], [7, 3]]}, "legend": {"orient": "none", "legendX": 1589, "legendY": 6, "direction": "horizontal", "title": null, "symbolType": "M-1,0H4.2", "symbolSize": 100, "symbolStrokeWidth": 2.2, "labelFontSize": 12.5, "labelOffset": 25, "columnPadding": 24, "padding": 5, "labelLimit": 300}}}},
  {"mark": {"type": "line", "strokeWidth": 2.3}, "encoding": {"y": {"field": "b", "type": "quantitative"},
    "color": {"datum": "MAXI HUGHES", "scale": {"domain": ["PIERCE O'LEARY", "MAXI HUGHES", "Same"], "range": ["#ff2a2a", "#2a2aff", "#959595"]}},
    "strokeDash": {"datum": "MAXI HUGHES", "scale": {"domain": ["PIERCE O'LEARY", "MAXI HUGHES", "Same"], "range": [[1, 0], [1, 0], [7, 3]]}}}},
  {"mark": {"type": "line", "strokeWidth": 2.3}, "encoding": {"y": {"field": "s", "type": "quantitative"},
    "color": {"datum": "Same", "scale": {"domain": ["PIERCE O'LEARY", "MAXI HUGHES", "Same"], "range": ["#ff2a2a", "#2a2aff", "#959595"]}},
    "strokeDash": {"datum": "Same", "scale": {"domain": ["PIERCE O'LEARY", "MAXI HUGHES", "Same"], "range": [[1, 0], [1, 0], [7, 3]]}}}},
  {"data": {"name": "rounds"}, "mark": {"type": "text", "align": "left", "baseline": "middle", "dx": 5, "fontSize": 14.6, "color": "#666666"}, "encoding": {"x": {"field": "t", "type": "quantitative"}, "y": {"datum": 1.1}, "text": {"field": "r"}}}
 ]
},
{
 "width": 1986, "height": 355,
 "encoding": {"x": {"field": "t", "type": "quantitative", "scale": {"domain": [-45, 945], "nice": false, "zero": false}, "axis": {"values": [0, 200, 400, 600, 800], "title": "Fight time (seconds)", "titleFontSize": 20.5, "titleY": 53, "titleBaseline": "alphabetic", "grid": false, "tickSize": 7, "labelPadding": 8}}},
 "layer": [
  {"data": {"name": "rounds"}, "mark": {"type": "rule", "color": "#555555", "strokeWidth": 1, "strokeDash": [1.5, 2]}, "encoding": {"x": {"field": "t", "type": "quantitative"}}},
  {"data": {"name": "band"}, "mark": {"type": "area", "fill": "#ff0000", "fillOpacity": 0.13, "stroke": "#ff0000", "strokeOpacity": 0.12, "strokeWidth": 1}, "encoding": {"y": {"field": "rlo", "type": "quantitative", "scale": {"domain": [-1.38, 28.48], "nice": false, "zero": false}, "axis": {"values": [0, 5, 10, 15, 20, 25], "tickCount": 20, "title": "Count", "titleFontSize": 15.7, "titleX": -52, "titleBaseline": "middle", "grid": true, "tickSize": 6, "labelPadding": 7}}, "y2": {"field": "rhi"}}},
  {"data": {"name": "band"}, "mark": {"type": "area", "fill": "#0000ff", "fillOpacity": 0.13, "stroke": "#0000ff", "strokeOpacity": 0.1, "strokeWidth": 1}, "encoding": {"y": {"field": "blo", "type": "quantitative"}, "y2": {"field": "bhi"}}},
  {"data": {"name": "count"}, "mark": {"type": "line", "strokeWidth": 2.5, "strokeCap": "butt"}, "encoding": {"y": {"field": "pr", "type": "quantitative"},
    "color": {"datum": "Predicted PIERCE O'LEARY: 15.2", "scale": {"domain": ["Truth PIERCE O'LEARY: 25", "Truth MAXI HUGHES: 3", "Predicted PIERCE O'LEARY: 15.2", "Predicted MAXI HUGHES: 12.8"], "range": ["rgba(255,0,0,0.75)", "rgba(0,0,255,0.72)", "rgba(255,0,0,0.55)", "rgba(0,0,255,0.55)"]}, "legend": {"orient": "none", "legendX": 7.6, "legendY": 8, "direction": "vertical", "title": null, "symbolType": "M-1,0H5.4", "symbolSize": 100, "symbolStrokeWidth": 2.8, "labelFontSize": 14.6, "labelOffset": 32, "rowPadding": 6, "padding": 6, "labelLimit": 400}},
    "strokeDash": {"datum": "Predicted PIERCE O'LEARY: 15.2", "scale": {"domain": ["Truth PIERCE O'LEARY: 25", "Truth MAXI HUGHES: 3", "Predicted PIERCE O'LEARY: 15.2", "Predicted MAXI HUGHES: 12.8"], "range": [[1, 0], [1, 0], [2.5, 5], [2.5, 5]]}, "legend": {"orient": "none", "legendX": 7.6, "legendY": 8, "direction": "vertical", "title": null, "symbolType": "M-1,0H5.4", "symbolSize": 100, "symbolStrokeWidth": 2.8, "labelFontSize": 14.6, "labelOffset": 32, "rowPadding": 6, "padding": 6, "labelLimit": 400}}}},
  {"data": {"name": "count"}, "mark": {"type": "line", "strokeWidth": 2.5, "strokeCap": "butt"}, "encoding": {"y": {"field": "pb", "type": "quantitative"},
    "color": {"datum": "Predicted MAXI HUGHES: 12.8", "scale": {"domain": ["Truth PIERCE O'LEARY: 25", "Truth MAXI HUGHES: 3", "Predicted PIERCE O'LEARY: 15.2", "Predicted MAXI HUGHES: 12.8"], "range": ["rgba(255,0,0,0.75)", "rgba(0,0,255,0.72)", "rgba(255,0,0,0.55)", "rgba(0,0,255,0.55)"]}},
    "strokeDash": {"datum": "Predicted MAXI HUGHES: 12.8", "scale": {"domain": ["Truth PIERCE O'LEARY: 25", "Truth MAXI HUGHES: 3", "Predicted PIERCE O'LEARY: 15.2", "Predicted MAXI HUGHES: 12.8"], "range": [[1, 0], [1, 0], [2.5, 5], [2.5, 5]]}}}},
  {"data": {"name": "count"}, "mark": {"type": "line", "strokeWidth": 2.7}, "encoding": {"y": {"field": "tr", "type": "quantitative"},
    "color": {"datum": "Truth PIERCE O'LEARY: 25", "scale": {"domain": ["Truth PIERCE O'LEARY: 25", "Truth MAXI HUGHES: 3", "Predicted PIERCE O'LEARY: 15.2", "Predicted MAXI HUGHES: 12.8"], "range": ["rgba(255,0,0,0.75)", "rgba(0,0,255,0.72)", "rgba(255,0,0,0.55)", "rgba(0,0,255,0.55)"]}},
    "strokeDash": {"datum": "Truth PIERCE O'LEARY: 25", "scale": {"domain": ["Truth PIERCE O'LEARY: 25", "Truth MAXI HUGHES: 3", "Predicted PIERCE O'LEARY: 15.2", "Predicted MAXI HUGHES: 12.8"], "range": [[1, 0], [1, 0], [2.5, 5], [2.5, 5]]}}}},
  {"data": {"name": "count"}, "mark": {"type": "line", "strokeWidth": 2.7}, "encoding": {"y": {"field": "tb", "type": "quantitative"},
    "color": {"datum": "Truth MAXI HUGHES: 3", "scale": {"domain": ["Truth PIERCE O'LEARY: 25", "Truth MAXI HUGHES: 3", "Predicted PIERCE O'LEARY: 15.2", "Predicted MAXI HUGHES: 12.8"], "range": ["rgba(255,0,0,0.75)", "rgba(0,0,255,0.72)", "rgba(255,0,0,0.55)", "rgba(0,0,255,0.55)"]}},
    "strokeDash": {"datum": "Truth MAXI HUGHES: 3", "scale": {"domain": ["Truth PIERCE O'LEARY: 25", "Truth MAXI HUGHES: 3", "Predicted PIERCE O'LEARY: 15.2", "Predicted MAXI HUGHES: 12.8"], "range": [[1, 0], [1, 0], [2.5, 5], [2.5, 5]]}}}},
  {"data": {"name": "rounds"}, "transform": [{"filter": "datum.t > 0"}], "mark": {"type": "text", "align": "left", "baseline": "middle", "dx": 5, "fontSize": 14.6, "color": "#666666"}, "encoding": {"x": {"field": "t", "type": "quantitative"}, "y": {"datum": 27}, "text": {"field": "r"}}}
 ]
}
]
}
